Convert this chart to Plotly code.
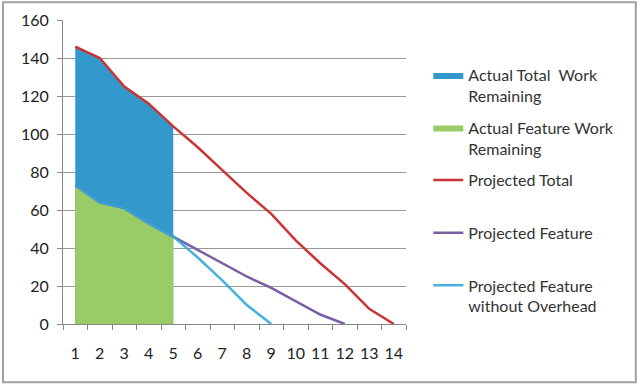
import plotly.graph_objects as go

categories = [str(i) for i in range(1, 15)]
actual_total = [146, 140, 125, 116, 104]
actual_feature = [73, 64, 61, 53, 46]
projected_total = [146, 140, 125, 116, 104, 93, 81, 69, 58, 44, 32, 21, 8, 0]
projected_feature = [73, 64, 61, 53, 46, 39, 32, 25, 19, 12, 5, 0]
projected_feature_no_overhead = [73, 64, 61, 53, 46, 35, 23, 10, 0]

names = ["Actual Total  Work<br>Remaining",
         "Actual Feature Work<br>Remaining",
         "Projected Total<br> ",
         "Projected Feature<br> ",
         "Projected Feature<br>without Overhead"]

FONT = "Lato, 'Open Sans', sans-serif"

fig = go.Figure()
fig.add_trace(go.Scatter(x=categories[:len(actual_total)], y=actual_total, name=names[0],
                         mode="lines", fill="tozeroy", fillcolor="#3399CC",
                         line=dict(width=0, color="#3399CC"), legendgroup="a"))
fig.add_trace(go.Scatter(x=categories[:len(actual_feature)], y=actual_feature, name=names[1],
                         mode="lines", fill="tozeroy", fillcolor="#99CC66",
                         line=dict(width=0, color="#99CC66"), legendgroup="b"))
fig.add_trace(go.Scatter(x=categories[:len(projected_total)], y=projected_total, name=names[2],
                         mode="lines", line=dict(width=2.5, color="#CC3333"), legendgroup="c"))
fig.add_trace(go.Scatter(x=categories[:len(projected_feature)], y=projected_feature, name=names[3],
                         mode="lines", line=dict(width=2.5, color="#7B5FA5"), legendgroup="d"))
fig.add_trace(go.Scatter(x=categories[:len(projected_feature_no_overhead)], y=projected_feature_no_overhead,
                         name=names[4], mode="lines", line=dict(width=2.5, color="#33AADD"),
                         opacity=0.9, legendgroup="e"))

fig.update_layout(
    width=640, height=385,
    margin=dict(l=63, r=234, t=20, b=61, autoexpand=False),
    paper_bgcolor="white", plot_bgcolor="white",
    font=dict(family=FONT, size=16, color="#222222"),
    showlegend=True,
    legend=dict(x=1.065, xanchor="left", y=0.875, yanchor="top", valign="top",
                traceorder="grouped", tracegroupgap=8,
                font=dict(family=FONT, size=16, color="#333333"),
                bgcolor="rgba(0,0,0,0)"),
    xaxis=dict(type="category", categoryorder="array", categoryarray=categories,
               range=[-0.5, 13.5], showline=True, linecolor="#888888", linewidth=1,
               ticks="outside", tickson="boundaries", ticklen=5, tickcolor="#888888",
               showgrid=False, ticklabelstandoff=15, tickangle=0, automargin=False,
               tickfont=dict(family=FONT, size=16, color="#222222")),
    yaxis=dict(range=[0, 160], dtick=20, showline=True, linecolor="#888888", linewidth=1,
               ticks="outside", ticklen=5, tickcolor="#888888",
               showgrid=True, gridcolor="#999999", gridwidth=1, zeroline=False,
               ticklabelstandoff=5, automargin=False,
               tickfont=dict(family=FONT, size=16, color="#222222")),
    shapes=[dict(type="rect", xref="paper", yref="paper",
                 x0=-0.175, x1=1.67, y0=-0.192, y1=1.058,
                 line=dict(color="#A0A0A0", width=2), fillcolor="rgba(0,0,0,0)", layer="below")],
)

fig.write_html("out.html", config={"displayModeBar": False},
               post_script="document.body.style.margin='0';")
